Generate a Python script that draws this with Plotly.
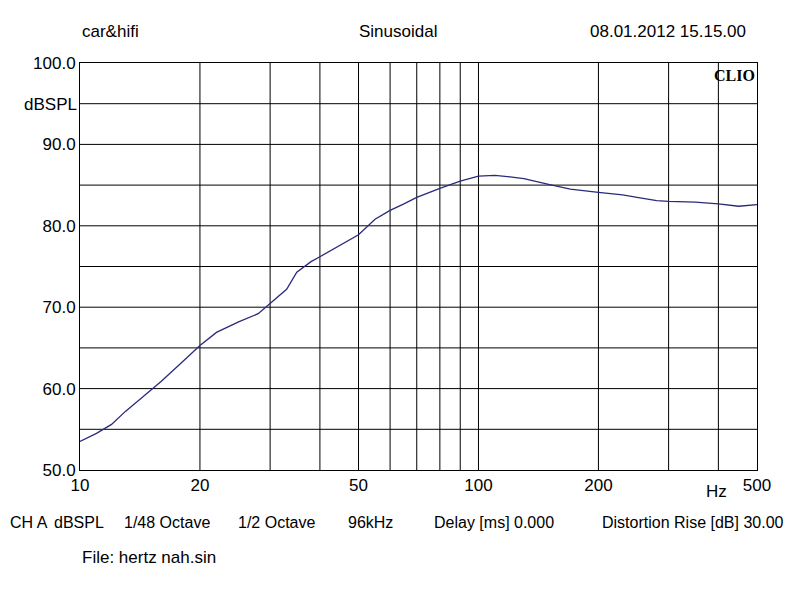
import plotly.graph_objects as go

# Frequency response
freq = [10, 11, 12, 13, 14, 15, 16, 18, 20, 22, 25, 28, 30, 33, 35, 38, 40, 45, 50, 55, 60, 65, 70, 80,
        90, 100, 110, 120, 130, 150, 170, 200, 230, 250, 280, 300, 350, 400, 450, 500]
spl = [53.5, 54.5, 55.6, 57.2, 58.5, 59.7, 60.9, 63.2, 65.3, 66.9, 68.2, 69.2, 70.5, 72.2, 74.3, 75.6, 76.2,
       77.6, 78.9, 80.8, 81.9, 82.7, 83.5, 84.6, 85.5, 86.1, 86.2, 86.0, 85.8, 85.1, 84.5, 84.1, 83.8,
       83.5, 83.1, 83.0, 82.9, 82.7, 82.4, 82.6]

xticks = [10, 20, 50, 100, 200, 500]
xtick_text = ['10', '20', '50', '100', '200', '500']
xgrid = [20, 30, 40, 50, 60, 70, 80, 90, 100, 200, 300, 400]
yticks = [50, 60, 70, 80, 90, 100]

fig = go.Figure()
fig.add_trace(go.Scatter(x=freq, y=spl, mode='lines', line=dict(color='#2a2a7a', width=1.3)))

shapes = []
for g in xgrid:
    shapes.append(dict(type='line', xref='x', yref='paper', x0=g, x1=g, y0=0, y1=1,
                       line=dict(color='black', width=1), layer='below'))
for v in range(55, 100, 5):
    shapes.append(dict(type='line', xref='paper', yref='y', x0=0, x1=1, y0=v, y1=v,
                       line=dict(color='black', width=1), layer='below'))

f = dict(family='Arial', size=17, color='black')
fb = dict(family='Arial', size=16, color='black')
ann = [
    dict(text='car&hifi', x=80, y=31, font=f),
    dict(text='Sinusoidal', x=357, y=31, font=f),
    dict(text='08.01.2012 15.15.00', x=588, y=31, font=f),
    dict(text='dBSPL', x=22, y=104, font=f),
    dict(text='Hz', x=704, y=491, font=f),
    dict(text='CH A', x=8, y=522, font=fb),
    dict(text='dBSPL', x=52, y=522, font=fb),
    dict(text='1/48 Octave', x=122, y=522, font=fb),
    dict(text='1/2 Octave', x=236, y=522, font=fb),
    dict(text='96kHz', x=346, y=522, font=fb),
    dict(text='Delay [ms] 0.000', x=432, y=522, font=fb),
    dict(text='Distortion Rise [dB] 30.00', x=600, y=522, font=fb),
    dict(text='File: hertz nah.sin', x=80, y=557, font=f),
]
annotations = [dict(text=a['text'], xref='paper', yref='paper', x=(a['x'] - 80) / 677, y=1 - (a['y'] - 63) / 407,
                    xanchor='left', yanchor='middle', showarrow=False, font=a['font']) for a in ann]
annotations.append(dict(text='<b>CLIO</b>', xref='paper', yref='paper', x=1, y=0.995, xanchor='right', yanchor='top',
                        showarrow=False, font=dict(family='Liberation Serif', size=16, color='black')))

fig.update_layout(
    width=800, height=596, showlegend=False,
    paper_bgcolor='white', plot_bgcolor='white',
    margin=dict(l=72, r=51, t=55, b=134),
    xaxis=dict(type='log', range=[1, 2.69897], tickvals=xticks, ticktext=xtick_text, showgrid=False,
               showline=True, linecolor='black', mirror=True, ticks='', tickfont=f, zeroline=False),
    yaxis=dict(range=[50, 100], tickvals=yticks, ticktext=[f'{v:.1f}' for v in yticks], showgrid=False,
               showline=True, linecolor='black', mirror=True, ticks='', tickfont=f, zeroline=False),
    shapes=shapes, annotations=annotations,
)
fig.write_html("out.html")
